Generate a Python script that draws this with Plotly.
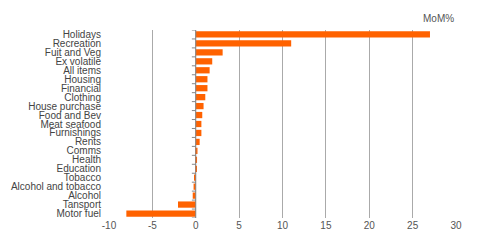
import plotly.graph_objects as go

categories = ["Holidays", "Recreation", "Fuit and Veg", "Ex volatile", "All items", "Housing",
              "Financial", "Clothing", "House purchase", "Food and Bev", "Meat seafood",
              "Furnishings", "Rents", "Comms", "Health", "Education", "Tobacco",
              "Alcohol and tobacco", "Alcohol", "Tansport", "Motor fuel"]
values = [27.0, 11.0, 3.1, 1.9, 1.6, 1.35, 1.35, 1.1, 0.9, 0.75, 0.65, 0.65, 0.45, 0.2, 0.15,
          0.03, -0.1, -0.25, -0.35, -2.05, -8.0]
x_ticks = [-10, -5, 0, 5, 10, 15, 20, 25, 30]
x_tick_text = ["-10", "-5", "0", "5", "10", "15", "20", "25", "30"]

fig = go.Figure(go.Bar(
    x=values, y=categories, orientation="h",
    marker=dict(color="#FF6200", line=dict(width=0)),
    width=0.7,
))

fig.update_layout(
    width=477, height=246,
    margin=dict(l=109, r=21, t=30, b=28),
    paper_bgcolor="white", plot_bgcolor="white",
    font=dict(family="Liberation Sans, Arial, sans-serif", size=10, color="#444"),
    showlegend=False,
    xaxis=dict(range=[-10, 30], tickvals=x_ticks, ticktext=x_tick_text, showgrid=True,
               gridcolor="#aaaaaa", gridwidth=1, zeroline=False, showline=False, ticks="",
               tickfont=dict(size=10, color="#555")),
    yaxis=dict(range=[20.5, -0.5], tickmode="array", tickvals=categories,
               showgrid=False, zeroline=False, showline=False, ticks="",
               tickfont=dict(size=10, color="#444"), ticklabelstandoff=7),
    annotations=[dict(text="MoM%", xref="paper", yref="paper", x=1.0, y=1.0,
                      xanchor="right", yanchor="bottom", yshift=4, showarrow=False,
                      font=dict(size=10, color="#555"))],
)

fig.add_shape(type="line", xref="x", yref="paper", x0=0, x1=0, y0=0, y1=1,
              line=dict(color="#888888", width=1))
n = len(categories)
for i in range(n + 1):
    fig.add_shape(type="line", xref="x", yref="y", x0=-0.45, x1=0, y0=i - 0.5, y1=i - 0.5,
                  line=dict(color="#888888", width=1))

fig.write_html("out.html")
